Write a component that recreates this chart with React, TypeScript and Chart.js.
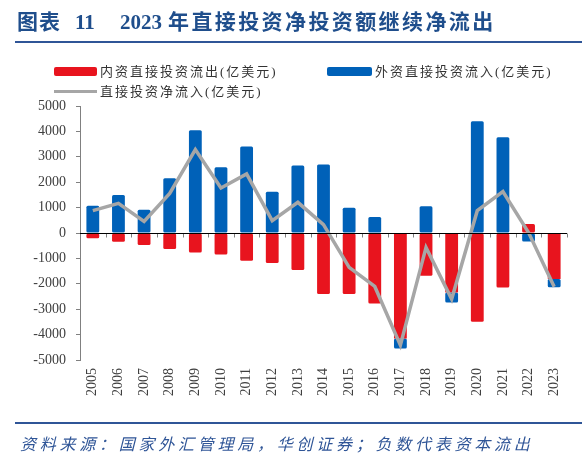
import React, { useEffect, useRef } from "react";
import { Chart, registerables } from "chart.js";

Chart.register(...registerables);

const years = ["2005","2006","2007","2008","2009","2010","2011","2012","2013","2014","2015","2016","2017","2018","2019","2020","2021","2022","2023"];
const outflow = [-210, -345, -473, -631, -764, -843, -1092, -1183, -1460, -2405, -2405, -2775, -4150, -1683, -2340, -3496, -2143, 354, -1810];
const inflow = [1076, 1497, 918, 2152, 4045, 2586, 3401, 1628, 2653, 2692, 997, 630, -400, 1050, -395, 4400, 3770, -331, -330];
const netFlow = [880, 1166, 457, 1560, 3283, 1774, 2325, 485, 1207, 330, -1355, -2105, -4420, -567, -2602, 879, 1628, 20, -2117];

const labelOut = "内资直接投资流出(亿美元)";
const labelIn = "外资直接投资流入(亿美元)";
const labelNet = "直接投资净流入(亿美元)";

const RED = "#E8141E";
const BLUE = "#0061B8";
const GRAY = "#A6A6A6";
const NAVY = "#1F4E8C";
const LINE_BLUE = "#2F5597";

const zeroLinePlugin = {
  id: "zeroLine",
  afterDatasetsDraw(chart: any) {
    const { ctx, chartArea, scales } = chart;
    const y0 = Math.round(scales.y.getPixelForValue(0)) + 0.5;
    ctx.save();
    ctx.strokeStyle = "#808080";
    ctx.lineWidth = 1;
    const n = years.length;
    const w = (chartArea.right - chartArea.left) / n;
    for (let i = 0; i <= n; i++) {
      const x = Math.round(chartArea.left + i * w) + 0.5;
      ctx.beginPath();
      ctx.moveTo(x, y0);
      ctx.lineTo(x, y0 + 4);
      ctx.stroke();
    }
    ctx.strokeStyle = "#000000";
    ctx.beginPath();
    ctx.moveTo(chartArea.left, y0);
    ctx.lineTo(chartArea.right, y0);
    ctx.stroke();
    ctx.restore();
  },
};

function ChartCanvas() {
  const ref = useRef<HTMLCanvasElement | null>(null);
  useEffect(() => {
    if (!ref.current) return;
    Chart.defaults.font.family = "'Liberation Serif', 'Noto Sans CJK SC'";
    const chart = new Chart(ref.current, {
      type: "bar",
      data: {
        labels: years,
        datasets: [
          {
            type: "line",
            label: labelNet,
            data: netFlow,
            borderColor: GRAY,
            backgroundColor: GRAY,
            borderWidth: 3.5,
            pointRadius: 0,
            tension: 0,
            stack: "net",
            order: 0,
          } as any,
          {
            label: labelOut,
            data: outflow,
            backgroundColor: RED,
            borderRadius: 1.5,
            borderSkipped: false,
            stack: "bars",
            order: 1,
          },
          {
            label: labelIn,
            data: inflow,
            backgroundColor: BLUE,
            borderRadius: 1.5,
            borderSkipped: false,
            stack: "bars",
            order: 2,
          },
        ],
      },
      options: {
        animation: false,
        responsive: false,
        devicePixelRatio: 1,
        layout: { padding: { left: 0, top: 106, right: 19, bottom: 52 } },
        datasets: { bar: { categoryPercentage: 1, barPercentage: 0.5 } },
        plugins: { legend: { display: false }, tooltip: { enabled: false }, title: { display: false } },
        scales: {
          x: {
            stacked: true,
            grid: { display: false, drawTicks: false },
            border: { display: false },
            ticks: {
              autoSkip: false,
              maxRotation: 90,
              minRotation: 90,
              padding: 8,
              color: "#404040",
              font: { size: 14, family: "'Liberation Serif'" },
            },
            afterFit(scale: any) { scale.height = 45; },
          },
          y: {
            stacked: true,
            min: -5000,
            max: 5000,
            grid: { drawOnChartArea: false, drawTicks: true, tickLength: 4, color: "#808080" },
            border: { display: true, color: "#808080", width: 1 },
            ticks: {
              stepSize: 1000,
              padding: 10,
              color: "#404040",
              font: { size: 14, family: "'Liberation Serif'" },
              callback: (v: any) => String(v),
            },
            afterFit(scale: any) { scale.width = 80; },
          },
        },
      } as any,
      plugins: [zeroLinePlugin],
    });
    return () => chart.destroy();
  }, []);
  return (
    <canvas
      ref={ref}
      width={586}
      height={457}
      style={{ position: "absolute", left: 0, top: 0, width: 586, height: 457 }}
    />
  );
}

export default function App() {
  const cjk = "'Liberation Serif', 'Noto Sans CJK SC', serif";
  const legendText: React.CSSProperties = {
    position: "absolute",
    fontFamily: cjk,
    fontSize: 13,
    letterSpacing: 2,
    color: "#333333",
    lineHeight: "14px",
    whiteSpace: "nowrap",
  };
  return (
    <div style={{ position: "absolute", left: 0, top: 0, width: 586, height: 457, background: "#ffffff", overflow: "hidden" }}>
      <ChartCanvas />
      <div style={{ position: "absolute", left: 0, top: 12, height: 21, fontFamily: cjk, fontWeight: "bold", fontSize: 21, lineHeight: "21px", color: NAVY, whiteSpace: "nowrap" }}>
        <span style={{ position: "absolute", left: 17, letterSpacing: 1 }}>图表</span>
        <span style={{ position: "absolute", left: 75 }}>11</span>
        <span style={{ position: "absolute", left: 120 }}>2023</span>
        <span style={{ position: "absolute", left: 168, letterSpacing: 2.4 }}>年直接投资净投资额继续净流出</span>
      </div>
      <div style={{ position: "absolute", left: 15, top: 41, width: 567, height: 2, background: LINE_BLUE }} />

      <div style={{ position: "absolute", left: 54, top: 67, width: 43, height: 9, background: RED, borderRadius: 2 }} />
      <div style={{ ...legendText, left: 100, top: 65 }}>{labelOut}</div>
      <div style={{ position: "absolute", left: 327, top: 67, width: 45, height: 9, background: BLUE, borderRadius: 2 }} />
      <div style={{ ...legendText, left: 375, top: 65 }}>{labelIn}</div>
      <div style={{ position: "absolute", left: 54, top: 90, width: 43, height: 3, background: GRAY }} />
      <div style={{ ...legendText, left: 100, top: 85 }}>{labelNet}</div>

      <div style={{ position: "absolute", left: 15, top: 422, width: 567, height: 2, background: LINE_BLUE }} />
      <div style={{ position: "absolute", left: 20, top: 436, fontFamily: cjk, fontStyle: "italic", fontSize: 16, lineHeight: "18px", letterSpacing: 3.75, color: LINE_BLUE, whiteSpace: "nowrap" }}>
        资料来源：国家外汇管理局，华创证券；负数代表资本流出
      </div>
    </div>
  );
}
